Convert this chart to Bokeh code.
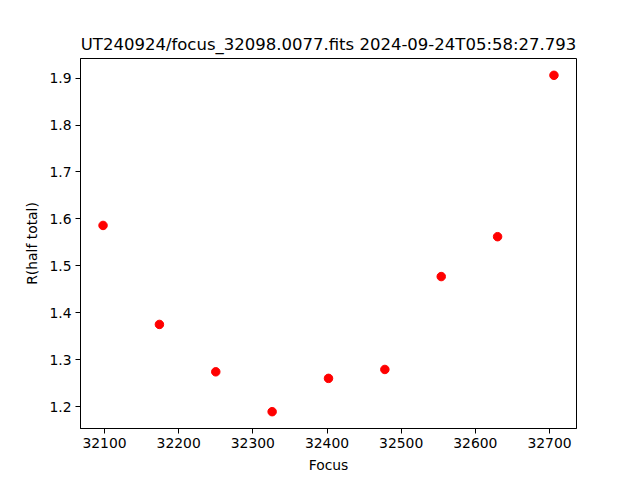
from bokeh.plotting import figure
from bokeh.models import Range1d, FixedTicker
from bokeh.embed import file_html
from bokeh.resources import INLINE

focus = [32098, 32174, 32250, 32326, 32402, 32478, 32554, 32630, 32706]
r_half = [1.586, 1.375, 1.274, 1.189, 1.260, 1.279, 1.477, 1.562, 1.906]
x_ticks = [32100, 32200, 32300, 32400, 32500, 32600, 32700]
y_ticks = [1.2, 1.3, 1.4, 1.5, 1.6, 1.7, 1.8, 1.9]
title_text = "UT240924/focus_32098.0077.fits 2024-09-24T05:58:27.793"

xpad = (max(focus) - min(focus)) * 0.05
ypad = (max(r_half) - min(r_half)) * 0.05

p = figure(width=640, height=480, output_backend="svg", toolbar_location=None,
           x_range=Range1d(min(focus) - xpad, max(focus) + xpad),
           y_range=Range1d(min(r_half) - ypad, max(r_half) + ypad),
           frame_width=496, frame_height=370,
           min_border_left=80, min_border_top=58, min_border_right=64, min_border_bottom=52)

p.title.text = title_text
p.title.align = "center"
p.title.text_font = "DejaVu Sans"
p.title.text_font_size = "16.5px"
p.title.text_font_style = "normal"
p.title.text_color = "black"

p.scatter(focus, r_half, size=8.5, color="red", line_color="red")

p.xgrid.visible = False
p.ygrid.visible = False
p.outline_line_color = "black"
p.outline_line_width = 1
p.background_fill_color = "white"
p.border_fill_color = "white"

for ax, ticks, lab in ((p.xaxis[0], x_ticks, "Focus"), (p.yaxis[0], y_ticks, "R(half total)")):
    ax.ticker = FixedTicker(ticks=ticks)
    ax.axis_label = lab
    ax.axis_label_text_font = "DejaVu Sans"
    ax.axis_label_text_font_size = "13.9px"
    ax.axis_label_text_font_style = "normal"
    ax.axis_label_text_color = "black"
    ax.axis_label_standoff = 6
    ax.major_label_text_font = "DejaVu Sans"
    ax.major_label_text_font_size = "13.9px"
    ax.major_label_text_color = "black"
    ax.major_tick_out = 5
    ax.major_tick_in = 0
    ax.minor_tick_out = 0
    ax.minor_tick_in = 0
    ax.major_label_standoff = 4
    ax.axis_line_color = "black"
    ax.major_tick_line_color = "black"

open("out.html", "w").write(file_html(p, INLINE))
